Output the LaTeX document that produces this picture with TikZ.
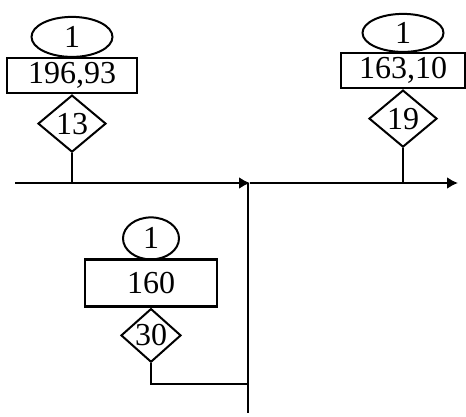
\documentclass[tikz,border=0pt]{standalone}
\usepackage{fontspec}
\setmainfont{Liberation Serif}
\usetikzlibrary{arrows.meta,positioning,shapes.geometric}

\tikzset{
	numoval/.style={draw, ellipse, line width=2pt, inner sep=0pt, minimum width=81pt, minimum height=40pt},
	valbox/.style={draw, rectangle, line width=2.2pt, inner sep=0pt, minimum height=35pt},
	tapdiam/.style={draw, diamond, line width=2pt, inner sep=0pt, minimum width=68pt, minimum height=57pt},
	busline/.style={line width=2.2pt},
	bustip/.style={-{Latex[length=11pt,width=12pt]}}
}

\begin{document}
\begin{tikzpicture}[x=1pt, y=-1pt, font=\fontsize{32}{33}\selectfont]
			%%%%% START %%%%%
			\useasboundingbox (0,0) rectangle (466,417);
			
			% left branch
			\node[valbox, minimum width=130pt] (box1) at (72,75.5) {196,93};
			\node[numoval, above=-1pt of box1] (oval1) {1};
			\node[tapdiam, below=0pt of box1] (diam1) {13};
			
			% right branch
			\node[valbox, minimum width=124pt] (box2) at (403,70.5) {163,10};
			\node[numoval, minimum height=38pt, above=-1pt of box2] (oval2) {1};
			\node[tapdiam, below=0pt of box2] (diam2) {19};
			
			% lower branch
			\node[valbox, minimum width=132pt, minimum height=47pt] (box3) at (151,283) {160};
			\node[numoval, minimum width=56pt, minimum height=42pt, above=-2pt of box3] (oval3) {1};
			\node[tapdiam, minimum width=60pt, minimum height=53pt, below=0pt of box3] (diam3) {30};
			
			% bus points
			\coordinate (busL) at (15,183);
			\coordinate (busJ) at (250,183);
			\coordinate (busR) at (458,183);
			\coordinate (busB) at (248,413);
			\coordinate (tap1) at (diam1.south |- busL);
			\coordinate (tap2) at (diam2.south |- busL);
			\coordinate (merge) at (248,384);
			
			\draw[busline, bustip] (busL) -- (busJ);
			\draw[busline, bustip] (busJ) -- (busR);
			\draw[busline] (busJ -| busB) -- (busB);
			
			\draw[busline] (diam1.south) -- (tap1);
			\draw[busline] (diam2.south) -- (tap2);
			\draw[busline] (diam3.south) |- (merge);
			
			%%%%% END %%%%%
\end{tikzpicture}
\end{document}
